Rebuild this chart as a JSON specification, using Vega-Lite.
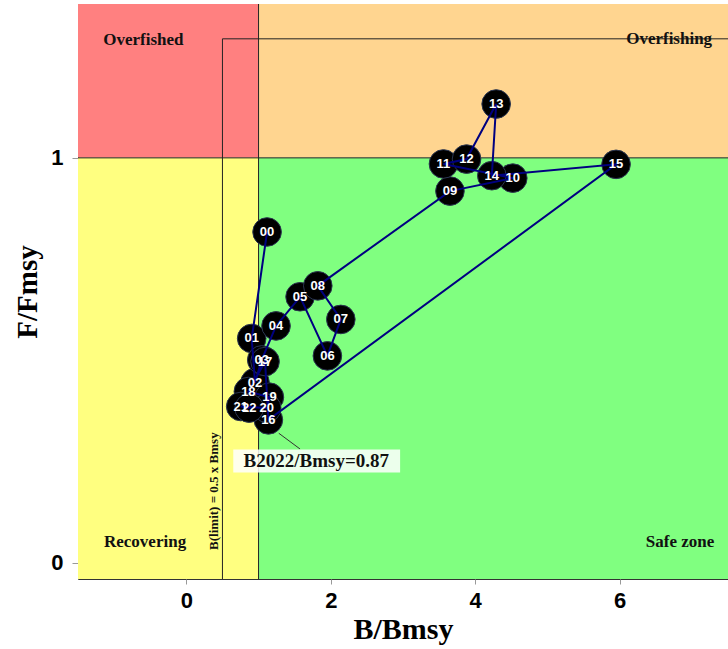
{
  "$schema": "https://vega.github.io/schema/vega-lite/v6.json",
  "width": 650,
  "height": 575,
  "autosize": {"type": "none"},
  "padding": {"left": 78, "top": 4, "right": 0, "bottom": 70},
  "background": "white",
  "config": {
    "view": {"stroke": "#333", "strokeWidth": 1},
    "axis": {"grid": false}
  },
  "datasets": {
    "zones": [
      {"zone": "Overfished", "x": -1.5, "x2": 1, "y": 1, "y2": 1.38},
      {"zone": "Overfishing", "x": 1, "x2": 7.5, "y": 1, "y2": 1.38},
      {"zone": "Recovering", "x": -1.5, "x2": 1, "y": -0.04, "y2": 1},
      {"zone": "Safe zone", "x": 1, "x2": 7.5, "y": -0.04, "y2": 1}
    ],
    "rules": [
      {"x": -1.5, "x2": 7.5, "y": 1, "y2": 1},
      {"x": 1, "x2": 1, "y": -0.04, "y2": 1.38},
      {"x": 0.5, "x2": 0.5, "y": -0.04, "y2": 1.294},
      {"x": 0.5, "x2": 7.5, "y": 1.294, "y2": 1.294}
    ],
    "zonelabels": [
      {"label": "Overfished", "x": -1.15, "y": 1.291},
      {"label": "Recovering", "x": -1.14, "y": 0.051}
    ],
    "zonelabelsR": [
      {"label": "Overfishing", "x": 7.28, "y": 1.293},
      {"label": "Safe zone", "x": 7.31, "y": 0.051}
    ],
    "pts": [
      {"t": 0, "lab": "00", "x": 1.118, "y": 0.817},
      {"t": 1, "lab": "01", "x": 0.905, "y": 0.554},
      {"t": 2, "lab": "02", "x": 0.951, "y": 0.445},
      {"t": 3, "lab": "03", "x": 1.044, "y": 0.501},
      {"t": 4, "lab": "04", "x": 1.242, "y": 0.585},
      {"t": 5, "lab": "05", "x": 1.575, "y": 0.657},
      {"t": 6, "lab": "06", "x": 1.953, "y": 0.511},
      {"t": 7, "lab": "07", "x": 2.139, "y": 0.601},
      {"t": 8, "lab": "08", "x": 1.82, "y": 0.684},
      {"t": 9, "lab": "09", "x": 3.65, "y": 0.918},
      {"t": 10, "lab": "10", "x": 4.52, "y": 0.95},
      {"t": 11, "lab": "11", "x": 3.56, "y": 0.985},
      {"t": 12, "lab": "12", "x": 3.88, "y": 0.997},
      {"t": 13, "lab": "13", "x": 4.29, "y": 1.133},
      {"t": 14, "lab": "14", "x": 4.23, "y": 0.956},
      {"t": 15, "lab": "15", "x": 5.95, "y": 0.984},
      {"t": 16, "lab": "16", "x": 1.136, "y": 0.353},
      {"t": 17, "lab": "17", "x": 1.09, "y": 0.497},
      {"t": 18, "lab": "18", "x": 0.859, "y": 0.423},
      {"t": 19, "lab": "19", "x": 1.15, "y": 0.409},
      {"t": 20, "lab": "20", "x": 1.113, "y": 0.382},
      {"t": 21, "lab": "21", "x": 0.753, "y": 0.386},
      {"t": 22, "lab": "22", "x": 0.87, "y": 0.382}
    ],
    "leader": [
      {"x": 1.28, "y": 0.32},
      {"x": 1.575, "y": 0.281}
    ],
    "box": [
      {"x": 0.65, "x2": 2.96, "y": 0.223, "y2": 0.28, "label": "B2022/Bmsy=0.87", "xc": 1.8, "yc": 0.252}
    ],
    "blimit": [
      {"label": "B(limit) = 0.5 x Bmsy", "x": 0.38, "y": 0.177}
    ]
  },
  "layer": [
    {
      "data": {"name": "zones"},
      "mark": {"type": "rect"},
      "encoding": {
        "x": {
          "field": "x", "type": "quantitative",
          "scale": {"domain": [-1.5, 7.5], "nice": false, "zero": false},
          "axis": {
            "title": "B/Bmsy", "values": [0, 2, 4, 6], "format": "d",
            "domain": false, "tickColor": "#999", "tickSize": 5,
            "labelFont": "Liberation Sans", "labelFontWeight": "bold", "labelFontSize": 22, "labelColor": "black",
            "labelPadding": 6,
            "titleFont": "Liberation Serif", "titleFontWeight": "bold", "titleFontSize": 30, "titleColor": "black",
            "titlePadding": 3
          }
        },
        "x2": {"field": "x2"},
        "y": {
          "field": "y", "type": "quantitative",
          "scale": {"domain": [-0.04, 1.38], "nice": false, "zero": false},
          "axis": {
            "title": "F/Fmsy", "values": [0, 1], "format": "d",
            "domain": false, "tickColor": "#999", "tickSize": 6,
            "labelFont": "Liberation Sans", "labelFontWeight": "bold", "labelFontSize": 22, "labelColor": "black",
            "labelPadding": 9,
            "titleFont": "Liberation Serif", "titleFontWeight": "bold", "titleFontSize": 29, "titleColor": "black",
            "titlePadding": 8
          }
        },
        "y2": {"field": "y2"},
        "color": {
          "field": "zone", "type": "nominal", "legend": null,
          "scale": {"domain": ["Overfished", "Overfishing", "Recovering", "Safe zone"], "range": ["#FF8080", "#FFD590", "#FFFF80", "#80FF80"]}
        }
      }
    },
    {
      "data": {"name": "rules"},
      "mark": {"type": "rule", "color": "#222", "strokeWidth": 1},
      "encoding": {
        "x": {"field": "x", "type": "quantitative"},
        "x2": {"field": "x2"},
        "y": {"field": "y", "type": "quantitative"},
        "y2": {"field": "y2"}
      }
    },
    {
      "data": {"name": "zonelabels"},
      "mark": {"type": "text", "align": "left", "baseline": "middle", "font": "Liberation Serif", "fontWeight": "bold", "fontSize": 17, "color": "#111"},
      "encoding": {
        "x": {"field": "x", "type": "quantitative"},
        "y": {"field": "y", "type": "quantitative"},
        "text": {"field": "label"}
      }
    },
    {
      "data": {"name": "zonelabelsR"},
      "mark": {"type": "text", "align": "right", "baseline": "middle", "font": "Liberation Serif", "fontWeight": "bold", "fontSize": 17, "color": "#111"},
      "encoding": {
        "x": {"field": "x", "type": "quantitative"},
        "y": {"field": "y", "type": "quantitative"},
        "text": {"field": "label"}
      }
    },
    {
      "data": {"name": "blimit"},
      "mark": {"type": "text", "align": "center", "baseline": "middle", "angle": 270, "font": "Liberation Serif", "fontWeight": "bold", "fontSize": 13, "color": "#111"},
      "encoding": {
        "x": {"field": "x", "type": "quantitative"},
        "y": {"field": "y", "type": "quantitative"},
        "text": {"field": "label"}
      }
    },
    {
      "data": {"name": "pts"},
      "mark": {"type": "point", "shape": "circle", "filled": true, "size": 820, "color": "black", "stroke": "#2a3550", "strokeWidth": 1, "opacity": 1},
      "encoding": {
        "x": {"field": "x", "type": "quantitative"},
        "y": {"field": "y", "type": "quantitative"}
      }
    },
    {
      "data": {"name": "pts"},
      "mark": {"type": "line", "color": "#000080", "strokeWidth": 2},
      "encoding": {
        "x": {"field": "x", "type": "quantitative"},
        "y": {"field": "y", "type": "quantitative"},
        "order": {"field": "t", "type": "quantitative"}
      }
    },
    {
      "data": {"name": "pts"},
      "mark": {"type": "text", "align": "center", "baseline": "middle", "font": "Liberation Sans", "fontWeight": "bold", "fontSize": 13, "color": "white"},
      "encoding": {
        "x": {"field": "x", "type": "quantitative"},
        "y": {"field": "y", "type": "quantitative"},
        "text": {"field": "lab"}
      }
    },
    {
      "data": {"name": "leader"},
      "mark": {"type": "line", "color": "#333", "strokeWidth": 1},
      "encoding": {
        "x": {"field": "x", "type": "quantitative"},
        "y": {"field": "y", "type": "quantitative"}
      }
    },
    {
      "data": {"name": "box"},
      "mark": {"type": "rect", "color": "white", "opacity": 0.85},
      "encoding": {
        "x": {"field": "x", "type": "quantitative"},
        "x2": {"field": "x2"},
        "y": {"field": "y", "type": "quantitative"},
        "y2": {"field": "y2"}
      }
    },
    {
      "data": {"name": "box"},
      "mark": {"type": "text", "align": "center", "baseline": "middle", "font": "Liberation Serif", "fontWeight": "bold", "fontSize": 19, "color": "#111"},
      "encoding": {
        "x": {"field": "xc", "type": "quantitative"},
        "y": {"field": "yc", "type": "quantitative"},
        "text": {"field": "label"}
      }
    }
  ]
}
